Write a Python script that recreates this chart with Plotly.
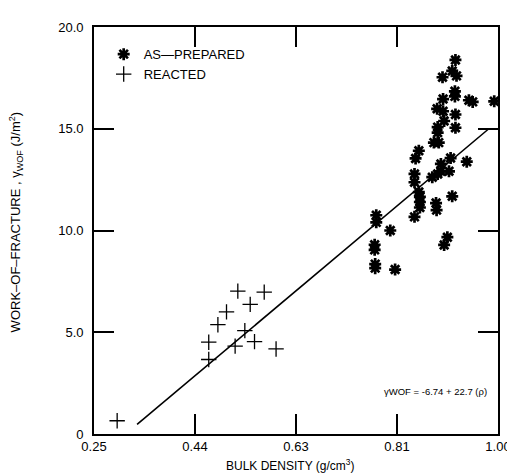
import plotly.graph_objects as go

# Reacted samples (bulk density g/cm3, work of fracture J/m2)
reacted_x = [0.293, 0.463, 0.463, 0.480, 0.496, 0.517, 0.512, 0.530, 0.540, 0.548, 0.566, 0.588]
reacted_y = [0.65, 4.51, 3.66, 5.37, 6.00, 7.02, 4.32, 5.08, 6.37, 4.54, 6.97, 4.18]

# As-prepared samples
prep_x = [0.921, 0.915, 0.923, 0.897, 0.920, 0.920, 0.898, 0.946, 0.953, 0.993,
          0.887, 0.898, 0.921, 0.900, 0.921, 0.888, 0.888, 0.881, 0.890,
          0.853, 0.847, 0.912, 0.942, 0.894, 0.894, 0.909, 0.888, 0.878,
          0.845, 0.845, 0.853, 0.855, 0.855, 0.855, 0.845, 0.915, 0.885, 0.886,
          0.774, 0.774, 0.800, 0.906, 0.900, 0.771, 0.771, 0.772, 0.772, 0.809]
prep_y = [18.38, 17.84, 17.60, 17.53, 16.84, 16.59, 16.46, 16.40, 16.32, 16.35,
          15.98, 15.86, 15.70, 15.38, 15.05, 15.08, 14.81, 14.32, 14.32,
          13.92, 13.54, 13.56, 13.38, 13.27, 12.91, 12.91, 12.78, 12.62,
          12.78, 12.37, 11.89, 11.65, 11.40, 11.13, 10.67, 11.68, 11.35, 11.00,
          10.75, 10.40, 10.00, 9.67, 9.29, 9.30, 9.05, 8.35, 8.15, 8.08]

# Fitted line as drawn
fit_x = [0.33, 0.983]
fit_y = [0.47, 15.0]

x_tickvals = [0.25, 0.4375, 0.625, 0.8125, 1.00]
x_ticktext = ["0.25", "0.44", "0.63", "0.81", "1.00"]
y_tickvals = [0, 5, 10, 15, 20]
y_ticktext = ["0", "5.0", "10.0", "15.0", "20.0"]

FONT = "Liberation Sans"
Y_MIN, Y_MAX = 0, 20

fig = go.Figure()
fig.add_trace(go.Scatter(
    x=fit_x, y=fit_y, mode="lines", line=dict(color="black", width=1.6),
    showlegend=False, hoverinfo="skip"))
fig.add_trace(go.Scatter(
    x=prep_x, y=prep_y, mode="markers", name="AS\u2014PREPARED",
    marker=dict(symbol="asterisk-open", size=10, color="black",
                line=dict(color="black", width=2.7))))
fig.add_trace(go.Scatter(
    x=reacted_x, y=reacted_y, mode="markers", name="REACTED",
    marker=dict(symbol="cross-thin-open", size=11, color="black",
                line=dict(color="black", width=1.3))))

# Inward tick marks on the bottom and top frame edges, one per interior x tick value
tick_depth = (Y_MAX - Y_MIN) * 20 / 411
tx, ty = [], []
for xv in x_tickvals[1:-1]:
    tx += [xv, xv, None, xv, xv, None]
    ty += [Y_MIN, Y_MIN + tick_depth, None, Y_MAX - tick_depth, Y_MAX, None]
fig.add_trace(go.Scatter(
    x=tx, y=ty, mode="lines", line=dict(color="black", width=1.5),
    showlegend=False, hoverinfo="skip", cliponaxis=False))

axis_common = dict(
    showgrid=False, zeroline=False, showline=True, linecolor="black", linewidth=1.6,
    mirror="allticks", ticks="inside", ticklen=20, tickwidth=1.5, tickcolor="black",
    layer="above traces",
    tickfont=dict(family=FONT, size=13, color="black"))

fig.update_xaxes(range=[0.25, 1.00], tickvals=x_tickvals, ticktext=x_ticktext,
                 ticklabelstandoff=0, **axis_common)
fig.update_yaxes(range=[Y_MIN, Y_MAX], tickvals=y_tickvals, ticktext=y_ticktext,
                 ticklabelstandoff=6, **axis_common)

fig.add_annotation(
    text="BULK DENSITY (g/cm<sup>3</sup>)", xref="paper", yref="paper",
    x=0.485, y=-0.076, xanchor="center", yanchor="middle", showarrow=False,
    font=dict(family=FONT, size=12, color="black"))
fig.add_annotation(
    text="WORK\u2013OF\u2013FRACTURE , \u03b3<sub>WOF</sub> (J/m<sup>2</sup>)",
    xref="paper", yref="paper", x=-0.193, y=0.52, xanchor="center", yanchor="middle",
    textangle=-90, showarrow=False, font=dict(family=FONT, size=13, color="black"))
fig.add_annotation(
    text="\u03b3WOF = -6.74 + 22.7 (\u03c1)", xref="paper", yref="paper",
    x=0.846, y=0.105, xanchor="center", yanchor="middle", showarrow=False,
    font=dict(family=FONT, size=9.5, color="black"))

fig.update_layout(
    width=515, height=473,
    margin=dict(l=86, r=19, t=15, b=47),
    paper_bgcolor="white", plot_bgcolor="white",
    legend=dict(x=0.024, y=0.97, xanchor="left", yanchor="top",
                bgcolor="rgba(0,0,0,0)", font=dict(family=FONT, size=13, color="black"),
                tracegroupgap=0, itemwidth=30),
)

fig.write_html("out.html")
